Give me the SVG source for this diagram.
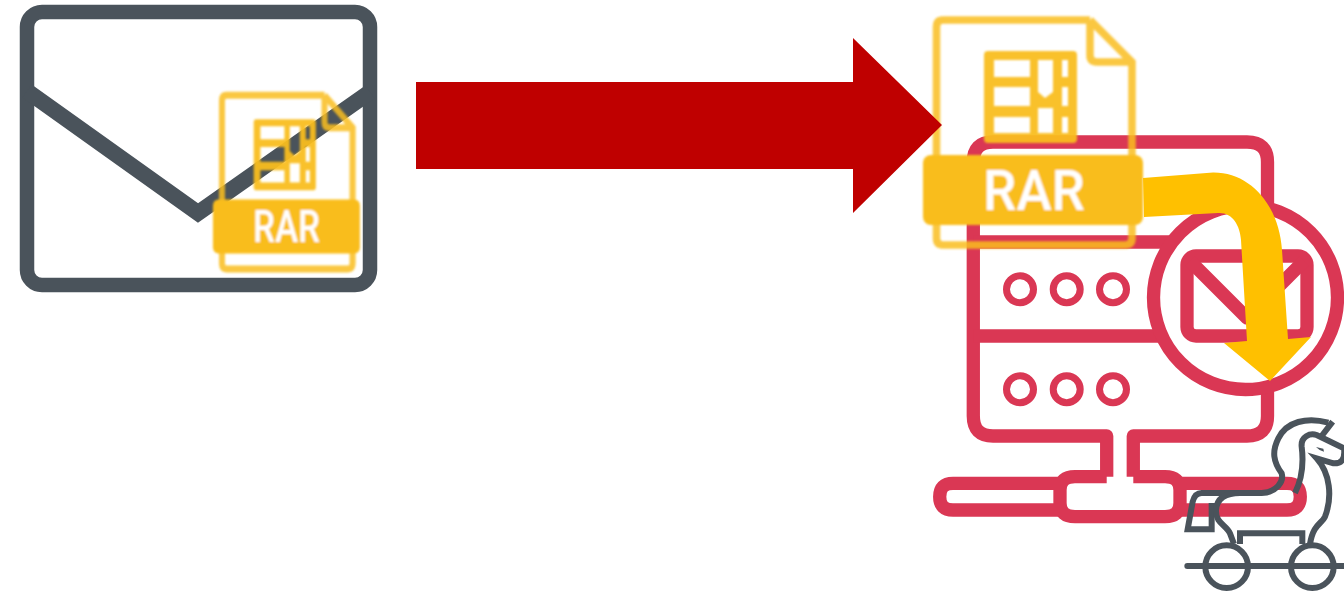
<svg xmlns="http://www.w3.org/2000/svg" width="1344" height="594" viewBox="0 0 1344 594">
<style>
.env{fill:none;stroke:#4a535b;stroke-width:14.500;stroke-linejoin:miter}
.red{fill:none;stroke:#da3754;stroke-width:13.3;stroke-linejoin:round}
.dot{fill:#fff;stroke:#da3754;stroke-width:7}
.fl{fill:none;stroke:#f9bd1c;stroke-width:var(--sw,7.500);stroke-opacity:.85}
.hs{fill:none;stroke:#4a535b;stroke-width:18;stroke-linejoin:miter}
.rt{font-family:"Roboto","Liberation Sans",sans-serif;font-weight:500;fill:#fff;text-anchor:middle}
</style>
<defs>
<filter id="soft" x="-5%" y="-5%" width="110%" height="110%"><feGaussianBlur stdDeviation="0.9"/></filter>
<g id="rarShape">
<path class="fl" d="M1090 20H943Q936.500 20 936.500 27V158M1090 20L1132 62V158M1090 20V55Q1090 62 1097 62H1132M936.500 222V238Q936.500 245 943 245H1125Q1132 245 1132 238V222"/>
<path fill="#f9bd1c" fill-opacity=".94" fill-rule="evenodd" d="M988 51H1073Q1077 51 1077 55V139Q1077 143 1073 143H988Q984 143 984 139V55Q984 51 988 51ZM994 60V77H1030V60ZM994 87V106H1030V87ZM994 117V133H1030V117ZM1038 60V92L1045 98L1053 92V60ZM1038 108V133H1053V108ZM1062 60V77H1068V60ZM1062 87V106H1068V87ZM1062 117V133H1068V117Z"/>
<rect x="923" y="155" width="220" height="70" rx="8" fill="#f9bd1c"/>
</g>
</defs>

<g id="email">
<rect class="env" x="27" y="12" width="343" height="273" rx="15"/>
<path class="env" style="stroke-width:16" d="M27 91L198 213L370 92"/>
</g>

<g id="server">
<path class="red" d="M1106.700 476.700V436H993Q973.300 436 973.300 416V162Q973.300 142 993 142H1247Q1267.500 142 1267.500 162V416Q1267.500 436 1247 436H1133.300V476.700"/>
<path class="red" d="M973.300 242H1180M973.300 336H1180"/>
<path class="red" d="M1106.700 476.700H1075Q1060 476.700 1060 490V503Q1060 516.700 1075 516.700H1165Q1180 516.700 1180 503V490Q1180 476.700 1165 476.700H1133.300"/>
<path class="red" d="M1060 483.300H953Q939.700 483.300 939.700 496.700Q939.700 510 953 510H1060M1180 483.300H1287Q1300.300 483.300 1300.300 496.700Q1300.300 510 1287 510H1180"/>
<circle class="dot" cx="1020" cy="289.300" r="13.500"/>
<circle class="dot" cx="1066.700" cy="289.300" r="13.500"/>
<circle class="dot" cx="1113" cy="289.300" r="13.500"/>
<circle class="dot" cx="1020" cy="389.300" r="13.500"/>
<circle class="dot" cx="1066.700" cy="389.300" r="13.500"/>
<circle class="dot" cx="1113" cy="389.300" r="13.500"/>
<circle cx="1245.500" cy="297.500" r="92" fill="#fff" stroke="#da3754" stroke-width="13.300"/>
<rect class="red" x="1187" y="256" width="120" height="80" rx="9"/>
<path class="red" stroke-linejoin="miter" d="M1190 261L1247 318L1304 261"/>
</g>

<g id="rar-small" filter="url(#soft)">
<use href="#rarShape" style="--sw:9" transform="translate(-403.600 79.900) scale(.668 .7716)"/>
<text class="rt" x="286.500" y="242" font-size="44" textLength="67" lengthAdjust="spacingAndGlyphs">RAR</text>
</g>

<g id="rar-large" filter="url(#soft)">
<use href="#rarShape"/>
<text class="rt" x="1034" y="210" font-size="56" textLength="102" lengthAdjust="spacingAndGlyphs">RAR</text>
</g>

<g id="connectors">
<polygon id="big-arrow" fill="#bf0000" points="416,82 853,82 853,38 942,125 853,213 853,169 416,169"/>
<path id="curved-arrow" fill="#ffc000" d="M1143 178L1213 172.500C1250 172 1279 205 1282 250L1288 339L1311 337L1270 381L1224 343L1247 341L1241 240C1240 225 1232 212 1218 213L1144 217Z"/>
</g>

<g id="trojan" transform="translate(1140 400) scale(.33333)">
<path class="hs" d="M565 68C500 50 440 65 415 115C395 155 400 185 425 220C432 245 410 277 365 279H185C168 279 162 290 158 305L143 388H215V318H232"/>
<path class="hs" d="M578 65L545 108M465 279C490 230 490 180 485 140C482 110 510 98 530 105L612 145Q618 192 580 190L530 175C570 220 578 290 555 350C545 372 520 372 510 432"/>
<path class="hs" d="M300 279C250 279 230 300 228 330C226 370 260 375 270 400L282 432M300 432V400H487V432"/>
<circle class="hs" cx="260" cy="500" r="64"/>
<circle class="hs" cx="517" cy="500" r="64"/>
<path class="hs" stroke-linecap="round" d="M142 498H612"/>
<path fill="#4a535b" d="M528 141L550 146L552 155Q538 152 528 141Z"/>
</g>
</svg>
